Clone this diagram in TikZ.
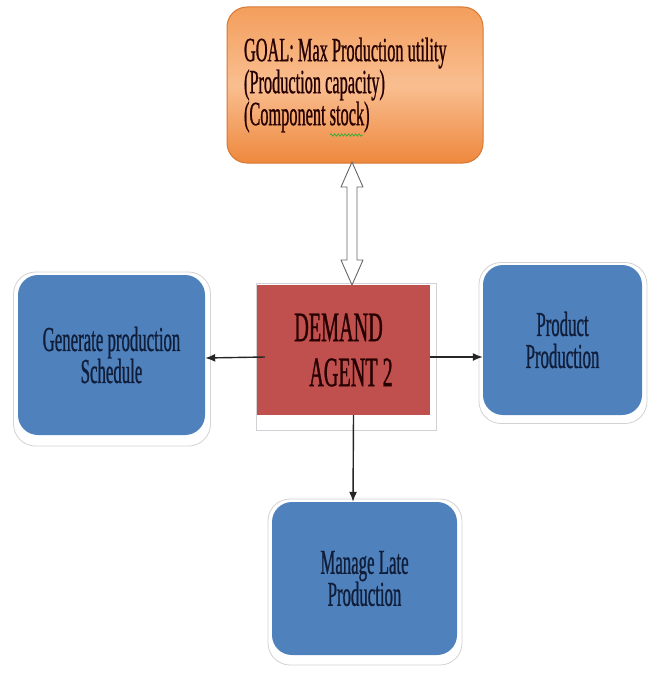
\documentclass[tikz,border=0pt]{standalone}
\usepackage{fontspec}
\setmainfont{Liberation Serif}[FakeStretch=0.48, FakeBold=0.7]
\usetikzlibrary{arrows.meta,decorations.pathmorphing}

\definecolor{boxblue}{RGB}{79,129,189}
\definecolor{boxred}{RGB}{192,80,77}
\definecolor{goaltop}{RGB}{243,158,92}
\definecolor{goalmid}{RGB}{249,190,144}
\definecolor{goalbot}{RGB}{238,136,62}
\definecolor{goaledge}{RGB}{214,120,50}
\definecolor{inknavy}{RGB}{16,30,58}
\definecolor{rimgray}{RGB}{210,210,214}

\tikzset{
  rim/.style={draw=rimgray, line width=0.8pt, fill=white, rounded corners=22pt},
  taskbox/.style={fill=boxblue, rounded corners=20pt, text=inknavy,
    align=center, font=\fontsize{35}{32}\selectfont, inner sep=0pt},
  goalbox/.style={draw=goaledge, line width=1pt, rounded corners=20pt,
    top color=goaltop, bottom color=goalbot, middle color=goalmid,
    align=flush left, text width=222pt, inner xsep=17pt,
    font=\fontsize{34}{32}\selectfont, text=black!85!red},
  agentbox/.style={fill=boxred, align=left, inner sep=0pt,
    font=\fontsize{42}{45}\selectfont, text=black!85!red},
  flow/.style={-{Latex[length=10pt,width=8pt]}, line width=1.4pt, black!85},
}

\begin{document}
\begin{tikzpicture}[x=1pt, y=-1pt]
\useasboundingbox (0,0) rectangle (652,677);

% white frames behind the task boxes
\node[rim, minimum width=197pt, minimum height=174pt] (schedrim) at (112,359) {};
\node[rim, minimum width=168pt, minimum height=161pt] (prodrim)  at (563,343) {};
\node[rim, minimum width=194pt, minimum height=166pt] (laterim)  at (365,582) {};
\node[draw=rimgray, line width=0.8pt, fill=white,
      minimum width=180pt, minimum height=147pt] (agentrim) at (346,357) {};

% goal
\node[goalbox, minimum width=256pt, minimum height=156pt] (goal) at (355,85)
  {GOAL: Max Production utility\\(Production capacity)\\(Component stock)};

% agent
\node[agentbox, minimum width=173pt, minimum height=130pt] (agent) at (343.5,350)
  {DEMAND\\\hspace*{15pt}AGENT 2};

% tasks
\node[taskbox, minimum width=187pt, minimum height=160pt] (sched) at (111.5,355)
  {Generate production\\Schedule};
\node[taskbox, minimum width=159pt, minimum height=150pt] (prod) at (562.5,340)
  {Product\\Production};
\node[taskbox, minimum width=185pt, minimum height=153pt] (late) at (364.5,578.5)
  {Manage Late\\Production};

% spell-check mark under "stock"
\coordinate (sq1) at (330,135);
\coordinate (sq2) at (363,135);
\draw[green!60!black!80, line width=0.7pt,
      decorate, decoration={snake, segment length=3.5pt, amplitude=1.2pt}]
  (sq1) -- (sq2);

% hollow two-way arrow between goal and agent
\coordinate (ua) at (352,162);
\coordinate (da) at (352,285);
\draw[gray!80!black, line width=0.9pt, fill=white, line join=round]
  (ua) -- ++(11,25) -- ++(-6,0) -- ++(0,73) -- ++(6,0) -- (da)
       -- ++(-11,-25) -- ++(6,0) -- ++(0,-73) -- ++(-6,0) -- cycle;

% flows out of the agent
\draw[flow] ([xshift=8pt,yshift=-7pt]agent.west) -- ([yshift=-3pt]sched.east);
\draw[flow] ([yshift=-7pt]agent.east) -- ([yshift=-17pt]prod.west);
\draw[flow] ([xshift=10pt]agent.south) -- ([xshift=-11.5pt]late.north);
\end{tikzpicture}
\end{document}
